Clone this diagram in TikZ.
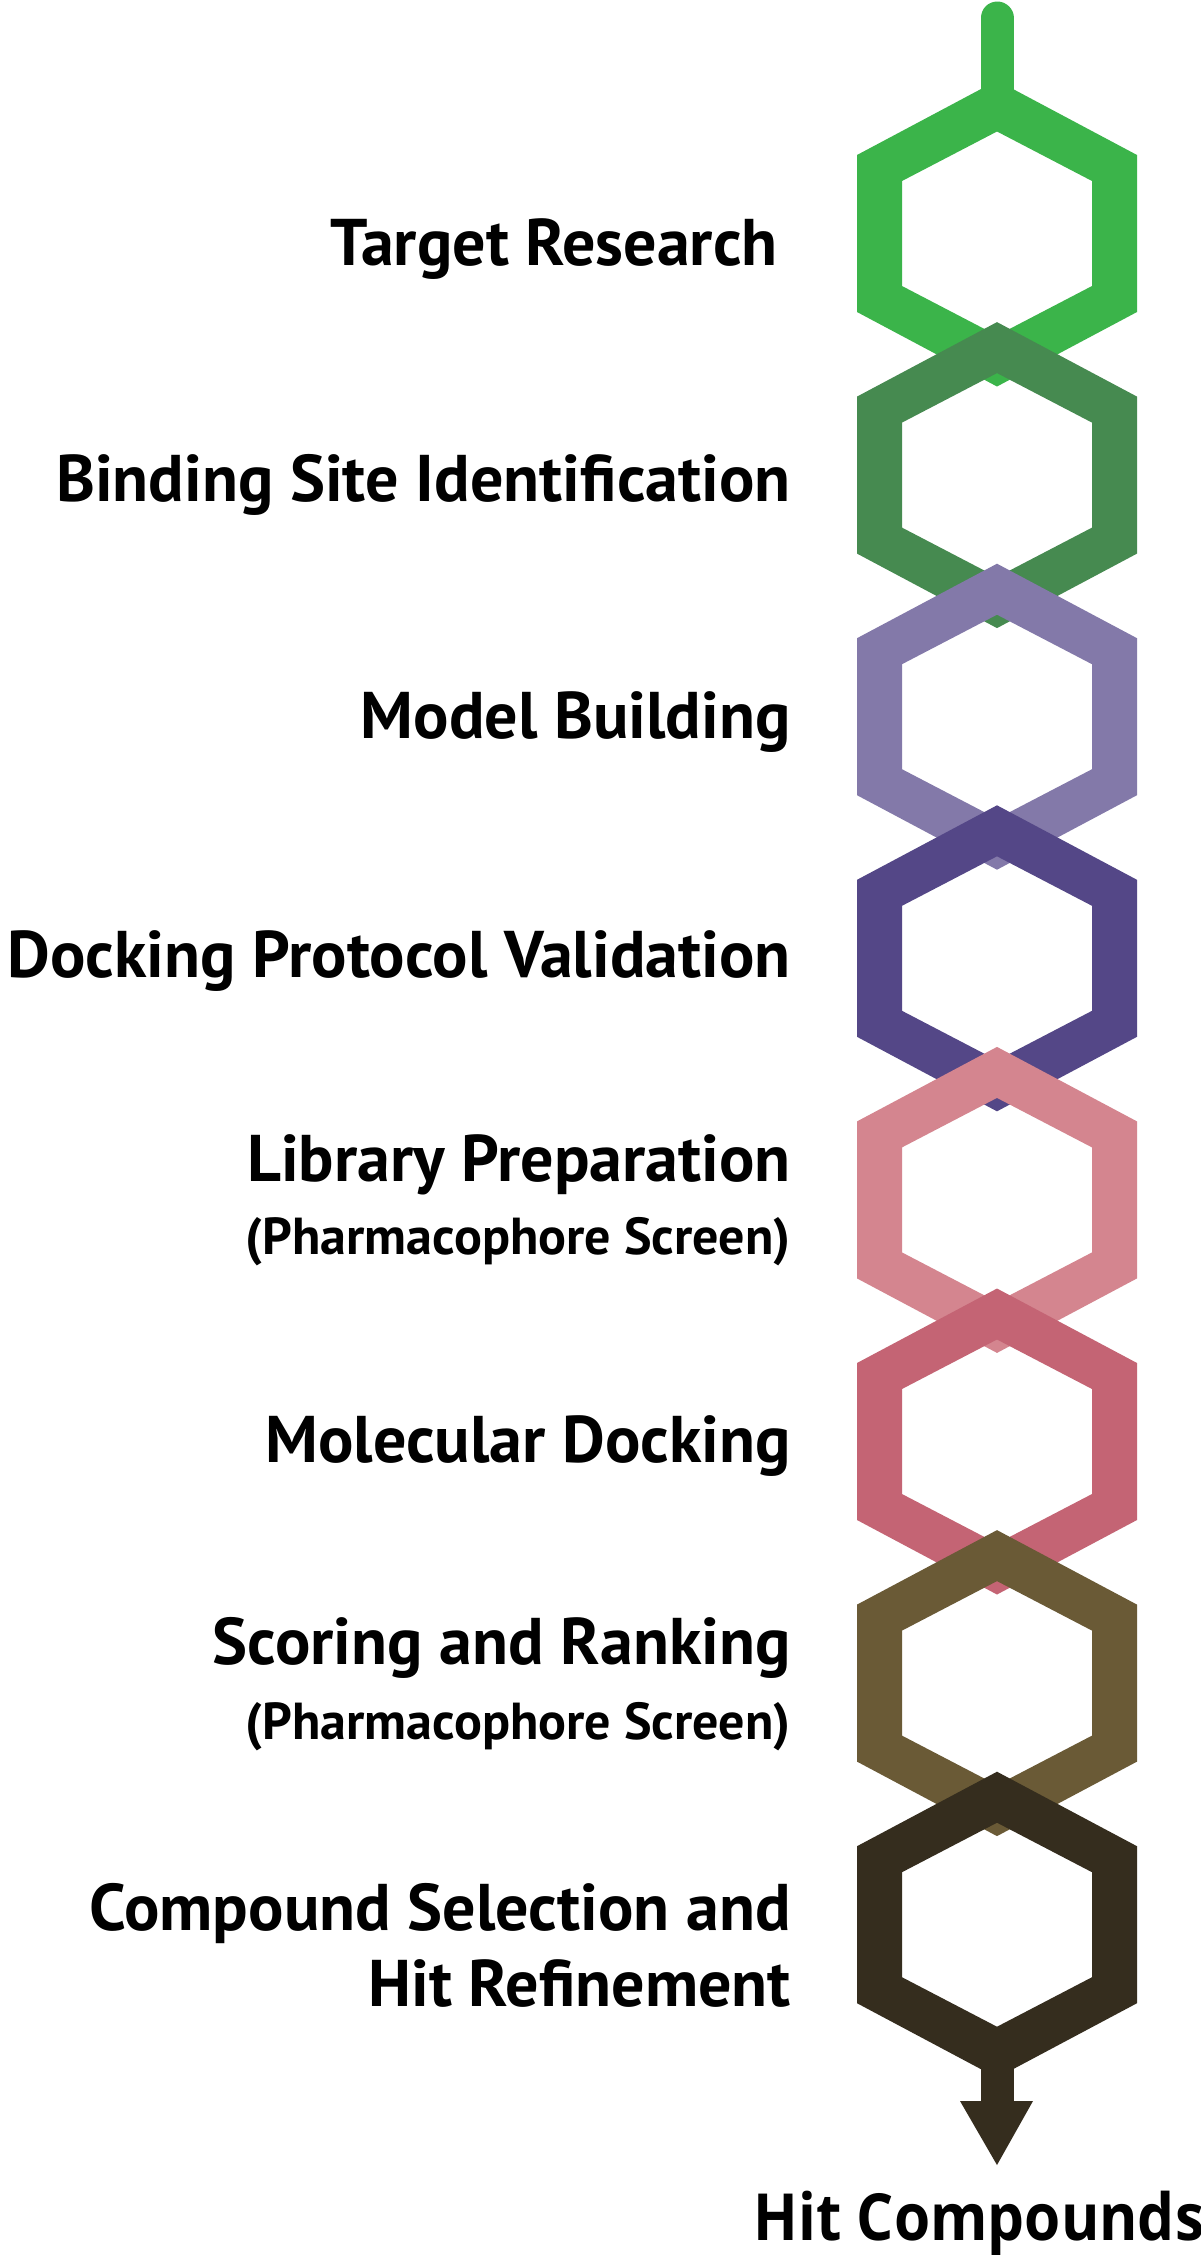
\documentclass[tikz,border=0pt]{standalone}
\usepackage{fontspec}
\newfontfamily\labfont{PT Sans}
\newfontfamily\hitfont{Open Sans}[FakeStretch=0.9]
\usetikzlibrary{calc}
\definecolor{hexA}{RGB}{59,180,74}
\definecolor{hexB}{RGB}{70,138,80}
\definecolor{hexC}{RGB}{131,121,169}
\definecolor{hexD}{RGB}{84,71,135}
\definecolor{hexE}{RGB}{212,133,143}
\definecolor{hexF}{RGB}{196,100,116}
\definecolor{hexG}{RGB}{106,90,54}
\definecolor{hexH}{RGB}{53,45,30}
\newcommand\hexring[3]{%
  \fill[#3, even odd rule]
    (997,#2-153) -- (1137,#2-78.5) -- (1137,#2+78.5) -- (997,#2+153) -- (857,#2+78.5) -- (857,#2-78.5) -- cycle
    (997,#2-102) -- (1092,#2-52.5) -- (1092,#2+52.5) -- (997,#2+102) -- (902,#2+52.5) -- (902,#2-52.5) -- cycle;
  \coordinate (#1t) at (997,#2-153);
  \coordinate (#1b) at (997,#2+153);
  \coordinate (#1c) at (997,#2);
}
\begin{document}
\begin{tikzpicture}[x=0.5pt,y=-0.5pt,
  lab/.style={anchor=base east, inner sep=0pt, font=\labfont\bfseries\fontsize{33}{39}\selectfont},
  sub/.style={anchor=base east, inner sep=0pt, font=\labfont\bfseries\fontsize{26}{31}\selectfont},
  hit/.style={anchor=base, inner sep=0pt, font=\hitfont\bfseries\fontsize{32.5}{39}\selectfont}]
\useasboundingbox (0,0) rectangle (1200,2255);
\fill[white] (0,0) rectangle (1200,2255);
% top stem
\coordinate (start) at (997,18);
\draw[hexA, line width=16.5pt, line cap=round] (start) -- (997,110);
% hexagons
\hexring{h1}{233.5}{hexA}
\hexring{h2}{475.1}{hexB}
\hexring{h3}{716.7}{hexC}
\hexring{h4}{958.3}{hexD}
\hexring{h5}{1199.9}{hexE}
\hexring{h6}{1441.5}{hexF}
\hexring{h7}{1683.1}{hexG}
\hexring{h8}{1924.7}{hexH}
% bottom arrow
\coordinate (abase) at (997,2102);
\draw[hexH, line width=16.5pt] ($(h8b)+(0,-20)$) -- (abase);
\fill[hexH] (960,2101) -- (1033,2101) -- (997,2165) -- cycle;
% labels
\node[lab] (l1) at (778,265) {Target Research};
\node[lab] (l2) at (791,501) {Binding Site Identification};
\node[lab] (l3) at (791,738) {Model Building};
\node[lab] (l4) at (791,977) {Docking Protocol Validation};
\node[lab] (l5a) at (791,1181) {Library Preparation};
\node[sub] (l5b) at (791,1254) {(Pharmacophore Screen)};
\node[lab] (l6) at (791,1462) {Molecular Docking};
\node[lab] (l7a) at (791,1664) {Scoring and Ranking};
\node[sub] (l7b) at (791,1739) {(Pharmacophore Screen)};
\node[lab] (l8a) at (791,1930) {Compound Selection and};
\node[lab] (l8b) at (791,2006) {Hit Refinement};
\node[hit] (hit) at (979,2240) {Hit Compounds};
\end{tikzpicture}
\end{document}
